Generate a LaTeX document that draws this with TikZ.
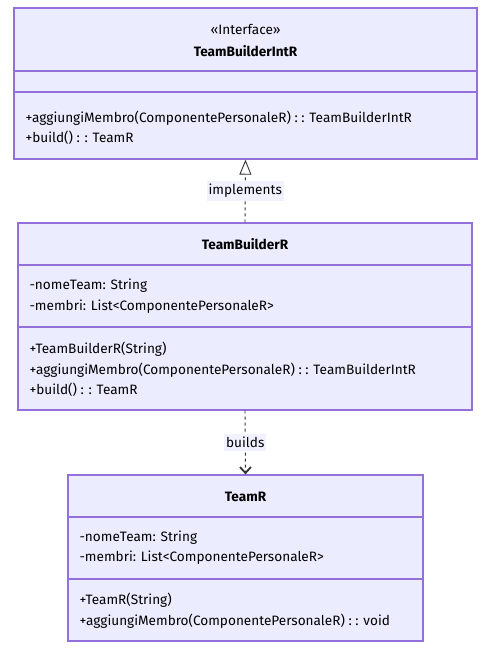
\documentclass[tikz,border=0pt]{standalone}
\usepackage{fontspec}
\setmainfont{Fira Sans}
\usetikzlibrary{arrows.meta, positioning}

\definecolor{umlfill}{HTML}{ECECFF}
\definecolor{umlline}{HTML}{9370DB}
\definecolor{umltext}{HTML}{333333}

\begin{document}
\begin{tikzpicture}[x=1pt, y=-1pt, line width=1pt,
    % --- 样式定义 ---
    % 类框 (淡紫填充, 紫色边框)
    class_box/.style={draw=umlline, fill=umlfill, line width=1.3pt, inner sep=0pt},
    % 分隔线
    divider/.style={draw=umlline, line width=1.3pt},
    % 类名与成员文字
    class_name/.style={font=\fontsize{13.6}{15}\selectfont\bfseries, text=black},
    stereo/.style={font=\fontsize{13.6}{15}\selectfont, text=black},
    member/.style={anchor=west, inner sep=0pt, font=\fontsize{13.6}{15}\selectfont, text=black},
    % 关系连线 (虚线)
    relation/.style={draw=umltext, line width=0.9pt, dash pattern=on 3pt off 3pt},
    % 连线标签 (带底色)
    edge_label/.style={fill=umlfill!75!white, inner xsep=2pt, inner ysep=3pt,
        font=\fontsize{13.6}{15}\selectfont, text=black}
]
    \useasboundingbox (0,0) rectangle (489,651);

    % =========================================
    % 【类 1】 TeamBuilderIntR (接口)
    % =========================================
    \node[class_box, minimum width=463pt, minimum height=151pt] (b1) at (245.5,83.5) {};
    \node[stereo] (b1_stereo) at (245.5,29) {«Interface»};
    \node[class_name] (b1_name) at (245.5,51) {TeamBuilderIntR};
    \draw[divider] (14,71) -- (477,71);
    \draw[divider] (14,92) -- (477,92);
    \node[member] (b1_m1) at (25,118) {+aggiungiMembro(ComponentePersonaleR) : : TeamBuilderIntR};
    \node[member] (b1_m2) at (25,138) {+build() : : TeamR};

    % =========================================
    % 【类 2】 TeamBuilderR
    % =========================================
    \node[class_box, minimum width=454pt, minimum height=187pt] (b2) at (245,316.5) {};
    \node[class_name] (b2_name) at (245,244) {TeamBuilderR};
    \draw[divider] (18,265) -- (472,265);
    \node[member] (b2_a1) at (29,286) {-nomeTeam: String};
    \node[member] (b2_a2) at (29,307) {-membri: List<ComponentePersonaleR>};
    \draw[divider] (18,327) -- (472,327);
    \node[member] (b2_m1) at (29,349) {+TeamBuilderR(String)};
    \node[member] (b2_m2) at (29,370) {+aggiungiMembro(ComponentePersonaleR) : : TeamBuilderIntR};
    \node[member] (b2_m3) at (29,390) {+build() : : TeamR};

    % =========================================
    % 【类 3】 TeamR
    % =========================================
    \node[class_box, minimum width=355pt, minimum height=166pt] (b3) at (245.5,558) {};
    \node[class_name] (b3_name) at (245.5,497) {TeamR};
    \draw[divider] (68,517) -- (423,517);
    \node[member] (b3_a1) at (79,538) {-nomeTeam: String};
    \node[member] (b3_a2) at (79,558) {-membri: List<ComponentePersonaleR>};
    \draw[divider] (68,579) -- (423,579);
    \node[member] (b3_m1) at (79,600) {+TeamR(String)};
    \node[member] (b3_m2) at (79,621) {+aggiungiMembro(ComponentePersonaleR) : : void};

    % --- 关系 ---
    % 实现 (空心三角)
    \draw[relation, -{Triangle[open, length=15pt, width=12pt, line width=0.9pt]}]
        (b2.north) -- (b1.south) node[midway, edge_label] {implements};
    % 依赖 (开口箭头)
    \draw[relation, -{Straight Barb[length=6pt, width=11pt, line width=1.8pt]}]
        (b2.south) -- (b3.north) node[midway, edge_label] {builds};

\end{tikzpicture}
\end{document}
